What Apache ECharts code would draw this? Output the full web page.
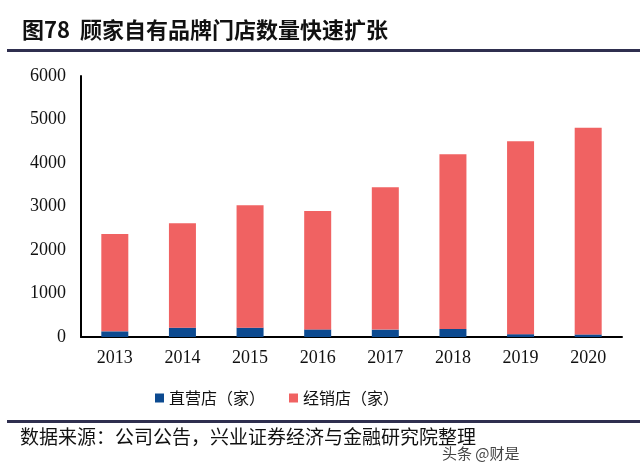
<!DOCTYPE html>
<html><head><meta charset="utf-8">
<script src="https://cdn.jsdelivr.net/npm/echarts@6/dist/echarts.min.js"></script>
<style>html,body{margin:0;padding:0;background:#fff}#c{width:640px;height:476px}</style>
</head><body><div id="c"></div>
<script>
const categories = ['2013','2014','2015','2016','2017','2018','2019','2020'];
const directStores = [130, 215, 215, 175, 170, 185, 65, 60];
const dealerStores = [2240, 2400, 2813, 2722, 3270, 4019, 4437, 4750];
const yTicks = [0, 1000, 2000, 3000, 4000, 5000, 6000];
const seriesNames = ['直营店（家）', '经销店（家）'];

const chart = echarts.init(document.getElementById('c'));
const cjk = '"Noto Sans CJK SC", sans-serif';
chart.setOption({
  animation: false,
  backgroundColor: '#fff',
  graphic: [
    {type:'text', left: 22, top: 19, style:{text:'图78  顾家自有品牌门店数量快速扩张', font:'bold 22px "Noto Sans CJK SC", sans-serif', fill:'#111'}},
    {type:'rect', shape:{x:7, y:49, width:633, height:3}, style:{fill:'#2f2f4f'}},
    {type:'rect', shape:{x:7, y:420, width:633, height:3}, style:{fill:'#2f2f4f'}},
    {type:'text', left: 20, top: 427, style:{text:'数据来源：公司公告，兴业证券经济与金融研究院整理', font:'19px "Noto Sans CJK SC", sans-serif', fill:'#111'}},
    {type:'text', left: 442, top: 446, style:{text:'头条 @财是', font:'15px "Noto Sans CJK SC", sans-serif', fill:'#444'}}
  ],
  legend: {
    top: 385, left: 150, itemWidth: 9, itemHeight: 9, itemGap: 24,
    icon: 'rect',
    textStyle: {fontFamily: cjk, fontSize: 16, color: '#111'},
    data: seriesNames
  },
  grid: {left: 81, right: 18, top: 76, bottom: 139},
  xAxis: {
    type: 'category', data: categories,
    axisLine: {lineStyle: {color: '#000', width: 2}},
    axisTick: {show: false},
    axisLabel: {fontFamily: '"Liberation Serif", serif', fontSize: 18, color: '#111', margin: 12}
  },
  yAxis: {
    type: 'value', min: yTicks[0], max: yTicks[yTicks.length-1], interval: 1000,
    axisLine: {show: true, lineStyle: {color: '#000', width: 2}},
    axisTick: {show: false},
    splitLine: {show: false},
    axisLabel: {fontFamily: '"Liberation Serif", serif', fontSize: 18, color: '#111', margin: 15, formatter: v => String(v)}
  },
  series: [
    {name: seriesNames[0], type: 'bar', stack: 's', barWidth: 27, data: directStores, itemStyle: {color: '#0c4a90'}},
    {name: seriesNames[1], type: 'bar', stack: 's', barWidth: 27, data: dealerStores, itemStyle: {color: '#f06262'}}
  ]
});
</script></body></html>
